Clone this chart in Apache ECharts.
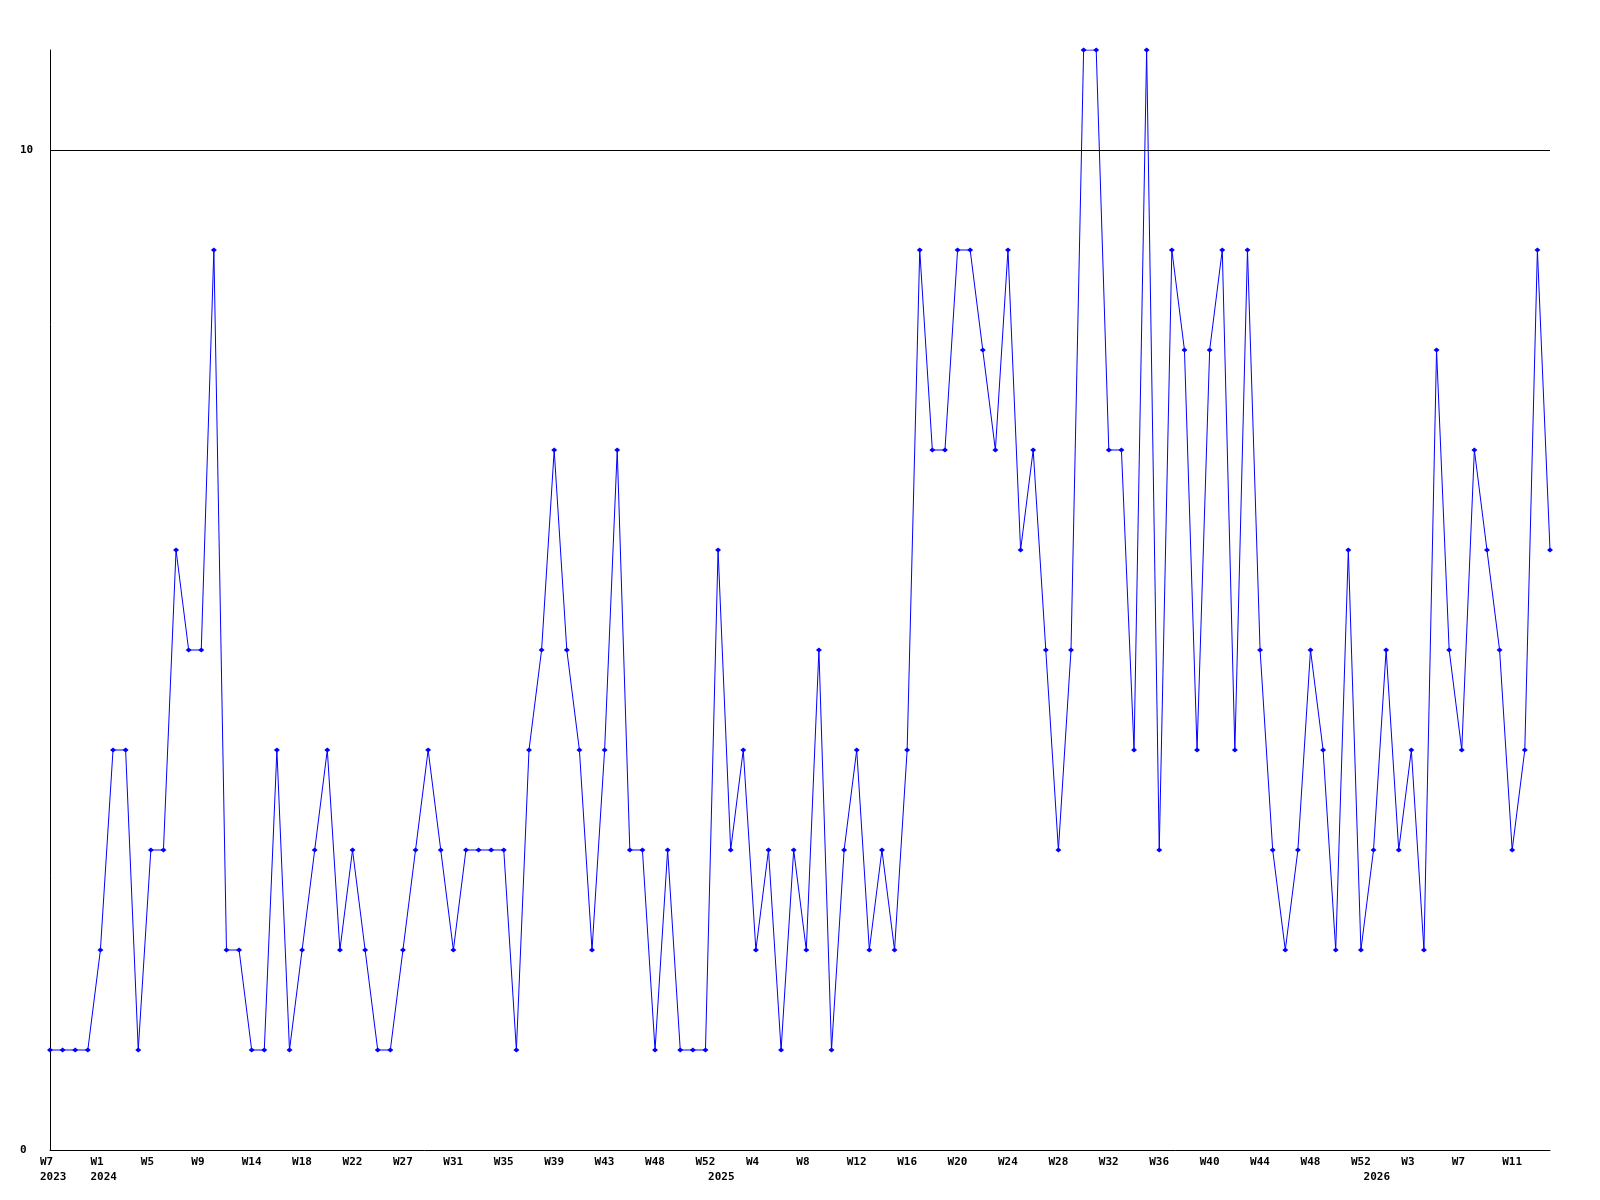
<!DOCTYPE html>
<html>
<head>
<meta charset="utf-8">
<script src="https://cdn.jsdelivr.net/npm/echarts@6/dist/echarts.min.js"></script>
<style>
html,body{margin:0;padding:0;background:#fff;}
#chart{width:1600px;height:1200px;}
</style>
</head>
<body>
<div id="chart"></div>
<script>
// Values per point (120 weekly points)
const values = [
  1,1,1,1,2,4,4,1,3,3,
  6,5,5,9,2,2,1,1,4,1,
  2,3,4,2,3,2,1,1,2,3,
  4,3,2,3,3,3,3,1,4,5,
  7,5,4,2,4,7,3,3,1,3,
  1,1,1,6,3,4,2,3,1,3,
  2,5,1,3,4,2,3,2,4,9,
  7,7,9,9,8,7,9,6,7,5,
  3,5,11,11,7,7,4,11,3,9,
  8,4,8,9,4,9,5,3,2,3,
  5,4,2,6,2,3,5,3,4,2,
  8,5,4,7,6,5,3,4,9,6
];
// Week tick labels, one every 4 points
const weekLabels = ['W7','W1','W5','W9','W14','W18','W22','W27','W31','W35',
  'W39','W43','W48','W52','W4','W8','W12','W16','W20','W24',
  'W28','W32','W36','W40','W44','W48','W52','W3','W7','W11'];
// Year labels and the point index they sit under
const yearLabels = ['2023','2024','2025','2026'];
const yearIndex = [0,4,53,105];
// y tick labels
const yTicks = [0,10];
const refLine = 10;

const categories = values.map((v,i)=>'p'+i);
function labelFor(i){
  const w = (i%4===0) ? weekLabels[i/4] : '';
  const yi = yearIndex.indexOf(i);
  const y = yi>=0 ? yearLabels[yi] : '';
  if(!w && !y) return '';
  return w + '\n' + y;
}

const font = {fontFamily:'DejaVu Sans Mono', fontWeight:'bold', fontSize:11, color:'#000'};
const chart = echarts.init(document.getElementById('chart'), null, {renderer:'canvas'});
chart.setOption({
  animation:false,
  backgroundColor:'#fff',
  grid:{left:50,right:50,top:50,bottom:50,containLabel:false},
  xAxis:{
    type:'category',
    data:categories,
    boundaryGap:false,
    axisLine:{show:true,lineStyle:{color:'#000',width:1}},
    axisTick:{show:false},
    splitLine:{show:false},
    axisLabel:Object.assign({
      interval:(idx)=>labelFor(idx)!=='',
      formatter:(val,idx)=>labelFor(idx),
      align:'left',
      verticalAlign:'top',
      lineHeight:15,
      margin:5,
      padding:[0,0,0,-10],
      hideOverlap:false
    },font)
  },
  yAxis:{
    type:'value',
    min:0,max:11,interval:10,
    axisLine:{show:true,lineStyle:{color:'#000',width:1}},
    axisTick:{show:false},
    splitLine:{show:false},
    axisLabel:Object.assign({
      formatter:(v)=>yTicks.indexOf(v)>=0?String(v):'',
      align:'left',
      margin:30,
      showMaxLabel:false
    },font)
  },
  series:[{
    type:'line',
    data:values,
    symbol:'diamond',
    symbolSize:[6,5],
    showAllSymbol:true,
    lineStyle:{color:'#0000ff',width:1},
    itemStyle:{color:'#0000ff'},
    markLine:{
      silent:true,
      symbol:['none','none'],
      label:{show:false},
      lineStyle:{color:'#000',width:1,type:'solid'},
      data:[{yAxis:refLine}]
    }
  }]
});
</script>
</body>
</html>
